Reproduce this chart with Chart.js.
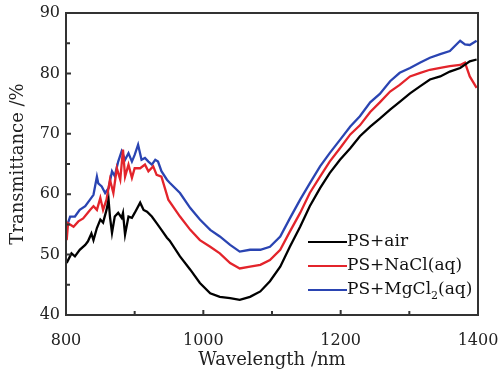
<!DOCTYPE html>
<html>
<head>
<meta charset="utf-8">
<script src="https://cdn.jsdelivr.net/npm/chart.js@4/dist/chart.umd.min.js"></script>
<style>
  html, body { margin: 0; padding: 0; background: #fff; }
</style>
</head>
<body>
<canvas id="chart" width="499" height="376"></canvas>
<script>
// wavelength (nm) and transmittance (%)
const airWl = [801, 808, 813, 820, 828, 832, 837, 840, 845, 850, 854, 859, 862, 864, 867, 871, 876, 881, 883, 886, 891, 896, 900, 908, 913, 918, 925, 932, 939, 947, 951, 966, 981, 995, 1010, 1024, 1039, 1053, 1068, 1083, 1097, 1112, 1126, 1141, 1155, 1170, 1184, 1199, 1214, 1228, 1243, 1257, 1272, 1286, 1301, 1316, 1330, 1345, 1359, 1374, 1388, 1398];
const airT = [48.6, 50.2, 49.7, 50.8, 51.6, 52.2, 53.5, 52.4, 54.4, 55.8, 55.3, 57.4, 59.1, 56.3, 53.6, 56.3, 56.9, 56.1, 56.9, 53.3, 56.3, 56.1, 56.9, 58.6, 57.4, 57.1, 56.3, 55.2, 54.1, 52.8, 52.3, 49.7, 47.5, 45.3, 43.6, 43.0, 42.8, 42.5, 43.0, 43.9, 45.6, 48.0, 51.3, 54.6, 58.0, 61.0, 63.5, 65.7, 67.6, 69.6, 71.2, 72.5, 74.0, 75.3, 76.7, 77.9, 79.0, 79.5, 80.3, 80.9, 82.0, 82.3];

const naclWl = [801, 803, 811, 818, 825, 835, 840, 845, 850, 854, 859, 864, 869, 874, 879, 883, 886, 891, 896, 900, 908, 915, 920, 927, 932, 939, 944, 949, 966, 981, 995, 1010, 1024, 1039, 1053, 1068, 1083, 1097, 1112, 1126, 1141, 1155, 1170, 1184, 1199, 1214, 1228, 1243, 1257, 1272, 1286, 1301, 1316, 1330, 1345, 1359, 1374, 1381, 1388, 1398];
const naclT = [52.4, 55.2, 54.6, 55.5, 56.0, 57.4, 58.0, 57.4, 59.4, 57.4, 59.1, 62.4, 60.2, 64.3, 62.4, 67.4, 62.9, 64.9, 62.7, 64.3, 64.3, 64.9, 63.8, 64.6, 63.2, 62.9, 61.0, 59.1, 56.3, 54.1, 52.4, 51.3, 50.2, 48.6, 47.7, 48.0, 48.3, 49.1, 50.8, 53.8, 56.9, 60.2, 62.9, 65.4, 67.6, 69.9, 71.4, 73.6, 75.2, 77.0, 78.1, 79.5, 80.1, 80.6, 80.9, 81.2, 81.4, 81.8, 79.5, 77.6];

const mgWl = [801, 806, 813, 820, 828, 835, 840, 845, 847, 852, 857, 862, 867, 871, 876, 881, 886, 891, 896, 900, 905, 910, 915, 920, 925, 930, 934, 939, 947, 951, 966, 981, 995, 1010, 1024, 1039, 1053, 1068, 1083, 1097, 1112, 1126, 1141, 1155, 1170, 1184, 1199, 1214, 1228, 1243, 1257, 1272, 1286, 1301, 1316, 1330, 1345, 1359, 1374, 1381, 1388, 1398];
const mgT = [54.6, 56.3, 56.3, 57.4, 58.0, 59.1, 59.9, 62.9, 61.8, 61.3, 60.2, 61.0, 63.8, 63.0, 65.4, 67.1, 65.7, 66.8, 65.4, 66.5, 68.2, 65.7, 66.0, 65.4, 64.9, 65.7, 65.4, 63.8, 62.4, 61.9, 60.2, 57.7, 55.8, 54.1, 53.0, 51.6, 50.5, 50.8, 50.8, 51.3, 53.0, 56.0, 59.1, 61.8, 64.6, 66.8, 69.0, 71.2, 72.9, 75.2, 76.6, 78.7, 80.1, 80.9, 81.8, 82.6, 83.2, 83.7, 85.4, 84.8, 84.7, 85.4];

const xLim = [800, 1400];
const yLim = [40, 90];
const xMajor = [800, 1000, 1200, 1400];
const xMinor = [900, 1100, 1300];
const yMajor = [40, 50, 60, 70, 80, 90];
const yMinor = [45, 55, 65, 75, 85];

const seriesNames = ['PS+air', 'PS+NaCl(aq)', 'PS+MgCl|2|(aq)'];
const seriesColors = ['#000000', '#e3242b', '#2a44b2'];

const toPoints = (xs, ys) => xs.map((x, i) => ({ x, y: ys[i] }));

const SERIF = '"DejaVu Serif", serif';

// frame, inward ticks and legend
const decor = {
  id: 'decor',
  afterDraw(chart) {
    const ctx = chart.ctx;
    const a = chart.chartArea;
    const sx = chart.scales.x, sy = chart.scales.y;
    ctx.save();
    ctx.strokeStyle = '#333333';
    ctx.lineWidth = 2;
    ctx.beginPath();
    ctx.moveTo(a.left, a.top);
    ctx.lineTo(a.right, a.top);
    ctx.lineTo(a.right, a.bottom);
    ctx.lineTo(a.left, a.bottom);
    ctx.closePath();
    xMajor.concat(xMinor).forEach(v => {
      const px = sx.getPixelForValue(v);
      const len = xMajor.includes(v) ? 5 : 4;
      ctx.moveTo(px, a.bottom);
      ctx.lineTo(px, a.bottom - len);
    });
    yMajor.concat(yMinor).forEach(v => {
      const py = sy.getPixelForValue(v);
      const len = yMajor.includes(v) ? 5 : 4;
      ctx.moveTo(a.left, py);
      ctx.lineTo(a.left + len, py);
    });
    ctx.stroke();

    const lx = 308, ly = 242, gap = 24;
    ctx.font = '17px ' + SERIF;
    ctx.textBaseline = 'middle';
    ctx.fillStyle = '#111';
    seriesNames.forEach((name, i) => {
      const yy = ly + i * gap;
      ctx.strokeStyle = seriesColors[i];
      ctx.lineWidth = 2;
      ctx.beginPath();
      ctx.moveTo(lx, yy);
      ctx.lineTo(lx + 39, yy);
      ctx.stroke();
      // "|2|" marks a subscript part
      let tx = lx + 39;
      name.split('|').forEach((p, k) => {
        if (k % 2 === 1) {
          ctx.font = '11px ' + SERIF;
          ctx.fillText(p, tx, yy + 6);
          tx += ctx.measureText(p).width;
          ctx.font = '17px ' + SERIF;
        } else {
          ctx.fillText(p, tx, yy);
          tx += ctx.measureText(p).width;
        }
      });
    });
    ctx.restore();
  }
};

const curves = [
  { label: 'PS+air', data: toPoints(airWl, airT) },
  { label: 'PS+NaCl(aq)', data: toPoints(naclWl, naclT) },
  { label: 'PS+MgCl2(aq)', data: toPoints(mgWl, mgT) },
].map((ds, i) => ({
  ...ds,
  borderColor: seriesColors[i],
  borderWidth: 2.3,
  pointRadius: 0,
  tension: 0,
  fill: false,
}));

new Chart(document.getElementById('chart'), {
  type: 'line',
  data: { datasets: curves },
  options: {
    responsive: false,
    animation: false,
    layout: { padding: { left: 0, right: 21, top: 13, bottom: 0 } },
    plugins: { legend: { display: false }, tooltip: { enabled: false } },
    scales: {
      x: {
        type: 'linear',
        min: xLim[0],
        max: xLim[1],
        afterBuildTicks: s => { s.ticks = xMajor.map(v => ({ value: v })); },
        afterFit: s => { s.height = 61; s.paddingLeft = 0; s.paddingRight = 0; },
        grid: { display: false, drawTicks: false },
        border: { display: false },
        ticks: { color: '#222', padding: 16, maxRotation: 0, callback: v => String(v), font: { family: SERIF, size: 16 } },
        title: { display: true, text: 'Wavelength /nm', color: '#222', padding: { top: 0, bottom: 5 }, font: { family: SERIF, size: 18 } },
      },
      y: {
        min: yLim[0],
        max: yLim[1],
        afterBuildTicks: s => { s.ticks = yMajor.map(v => ({ value: v })); },
        afterFit: s => { s.width = 66; s.paddingTop = 0; s.paddingBottom = 0; },
        grid: { display: false, drawTicks: false },
        border: { display: false },
        ticks: { color: '#222', padding: 6, callback: v => String(v), font: { family: SERIF, size: 16 } },
        title: { display: true, text: 'Transmittance /%', color: '#222', padding: { top: 8, bottom: 0 }, font: { family: SERIF, size: 18 } },
      },
    },
  },
  plugins: [decor],
});
</script>
</body>
</html>
